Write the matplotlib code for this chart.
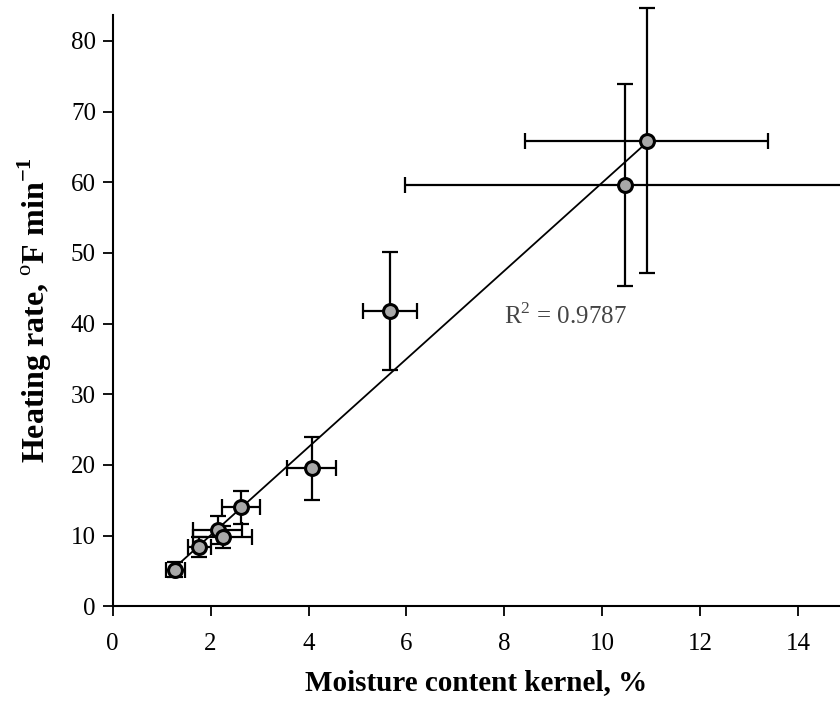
import numpy as np
import matplotlib
matplotlib.use("Agg")
import matplotlib.pyplot as plt

plt.rcParams["font.family"] = ["Liberation Serif", "DejaVu Serif"]
plt.rcParams["mathtext.fontset"] = "custom"
plt.rcParams["mathtext.rm"] = "Liberation Serif"
plt.rcParams["mathtext.bf"] = "Liberation Serif:bold"

# moisture content (%) and heating rate (F/min), with error bars
moisture = [1.28, 1.77, 2.15, 2.25, 2.62, 4.07, 5.66, 10.47, 10.90]
heating = [5.2, 8.4, 10.8, 9.8, 14.0, 19.5, 41.8, 59.6, 65.9]
moisture_err = [0.19, 0.24, 0.50, 0.60, 0.38, 0.50, 0.55, 4.5, 2.48]
heating_err = [1.0, 1.4, 2.0, 1.5, 2.3, 4.5, 8.4, 14.3, 18.8]
r2_text = "R$^2$ = 0.9787"

fig = plt.figure(figsize=(8.4, 7.05), dpi=100)
ax = fig.add_axes([0.134, 0.140, 0.866, 0.839])

ax.errorbar(moisture, heating, xerr=moisture_err, yerr=heating_err,
            fmt="none", ecolor="black", elinewidth=1.6, capsize=6,
            capthick=1.6, zorder=2, clip_on=False)

# linear trendline
slope, intercept = np.polyfit(moisture, heating, 1)
xs = np.array([min(moisture), max(moisture)])
ax.plot(xs, slope * xs + intercept, color="black", lw=1.3, zorder=3)

ax.plot(moisture, heating, "o", ms=10, mfc="#a8a8a8", mec="black",
        mew=2.2, zorder=4, clip_on=False)

ax.text(8.0, 40.0, r2_text, fontsize=18, color="#444444")

ax.set_xlim(0, 14.85)
ax.set_ylim(0, 83.7)
ax.set_xticks(range(0, 15, 2))
ax.set_yticks(range(0, 81, 10))
for s in ("top", "right"):
    ax.spines[s].set_visible(False)
for s in ("left", "bottom"):
    ax.spines[s].set_linewidth(1.5)
ax.tick_params(labelsize=18, length=7, width=1.3)
ax.tick_params(axis="x", pad=12)
ax.tick_params(axis="y", pad=5)

ax.set_xlabel("Moisture content kernel, %", fontsize=21, fontweight="bold",
              labelpad=10)
ax.set_ylabel(r"Heating rate, $^{\mathrm{o}}$F min$^{\mathbf{-1}}$",
              fontsize=23, fontweight="bold", labelpad=12)

fig.savefig("out.png", facecolor="white")
